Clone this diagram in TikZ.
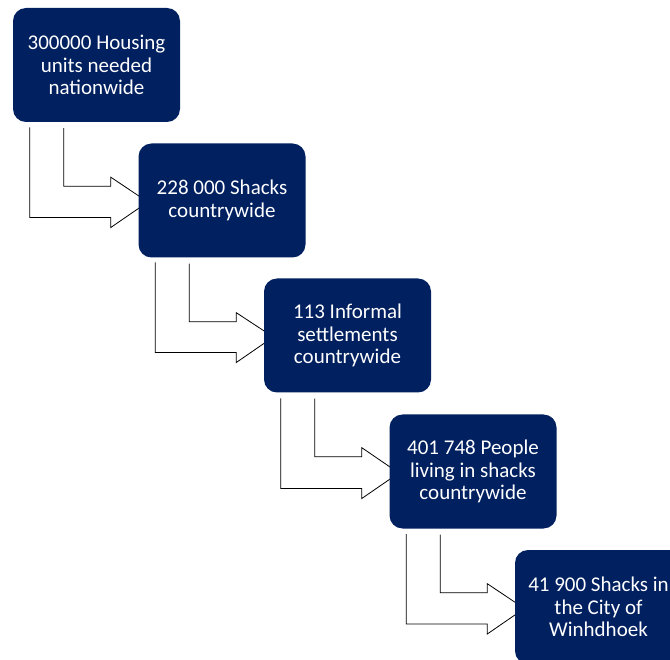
\documentclass[tikz,border=0pt]{standalone}
\usepackage{fontspec}
\setmainfont{Carlito}
\usepackage{tikz}
\usetikzlibrary{positioning,backgrounds,calc}
\definecolor{navy}{RGB}{0,32,96}

\begin{document}
\begin{tikzpicture}[x=1pt, y=-1pt,
        stage/.style={rectangle, rounded corners=13pt, fill=navy, text=white, minimum width=167pt, minimum height=114pt, inner sep=0pt, align=center, font=\fontsize{21}{22.7}\selectfont},
        bent/.style={draw=black, fill=white, line width=0.8pt}]
        \useasboundingbox (0,0) rectangle (670,660);
        \node [stage] (s1) at (96.5,65) {300000 Housing\\units needed\\nationwide};
        \node [stage] (s2) at (222,200.5) {228 000 Shacks\\countrywide};
        \node [stage] (s3) at (347.5,335.5) {113 Informal\\settlements\\countrywide};
        \node [stage] (s4) at (473,471.5) {401 748 People\\living in shacks\\countrywide};
        \node [stage] (s5) at (598.5,607) {41 900 Shacks in\\the City of\\Winhdhoek};
        % bent arrows behind the boxes
        \begin{scope}[on background layer]
            \foreach \a/\b in {s1/s2, s2/s3, s3/s4, s4/s5}
                \draw [bent] ($(\a.south west)+(51,6)$) -- ++(0,58) -- ++(47,0) -- ++(0,-9)
                    -- ($(\b.west)+(9.5,1.5)$) -- ++(-37,25.5) -- ++(0,-10) -- ++(-81,0) -- ++(0,-90);
        \end{scope}
    \end{tikzpicture}
\end{document}
